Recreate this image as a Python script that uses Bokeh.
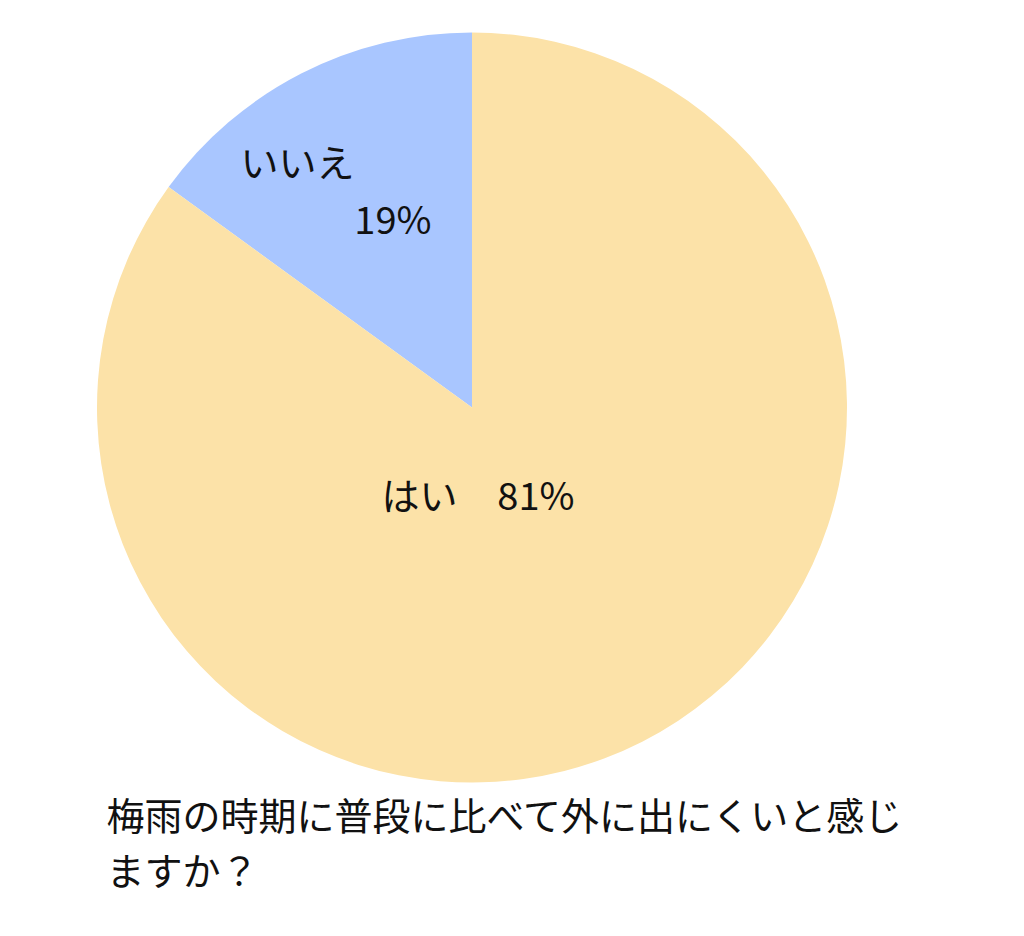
import math
from bokeh.plotting import figure
from bokeh.models import Range1d, ColumnDataSource
from bokeh.core.properties import value
from bokeh.embed import file_html
from bokeh.resources import INLINE

# ---- data ----
categories = ["いいえ", "はい"]
shares = [15.0, 85.0]            # slice sizes as drawn
pct_labels = ["19%", "81%"]      # printed percentages
colors = ["#A9C6FF", "#FCE2A8"]
title_lines = ["梅雨の時期に普段に比べて外に出にくいと感じ", "ますか？"]

FONT = "Noto Sans CJK JP"
W, H = 1008, 920

p = figure(width=W, height=H, output_backend="svg", toolbar_location=None,
           x_range=Range1d(0, W), y_range=Range1d(-H, 0),
           min_border=0)
p.axis.visible = False
p.grid.visible = False
p.outline_line_color = None
p.background_fill_color = "white"
p.border_fill_color = "white"

cx, cy, r = 471.5, -407.0, 375.0
total = sum(shares)
starts, ends = [], []
acc = 0.0
for s in shares:
    a0 = math.pi / 2 + 2 * math.pi * acc / total
    acc += s
    a1 = math.pi / 2 + 2 * math.pi * acc / total
    starts.append(a0)
    ends.append(a1)

src = ColumnDataSource(dict(start=starts, end=ends, color=colors, cat=categories))
p.wedge(x=cx, y=cy, radius=r, start_angle="start", end_angle="end",
        direction="anticlock", fill_color="color", line_color=None, source=src)

# slice labels
TXT = dict(text_font=value(FONT), text_font_size="38px", text_baseline="middle",
           text_color="#111111")
p.text(x=[240], y=[-160], text=[categories[0]], text_align="left", **TXT)
p.text(x=[431], y=[-217], text=[pct_labels[0]], text_align="right", **TXT)
p.text(x=[381], y=[-493], text=[categories[1]], text_align="left", **TXT)
p.text(x=[574], y=[-493], text=[pct_labels[1]], text_align="right", **TXT)

# question text
p.text(x=[106, 106], y=[-813, -868], text=title_lines, text_font=value(FONT),
       text_font_size="38px", text_align="left", text_baseline="middle", text_color="#111111")

open("out.html", "w").write(file_html(p, INLINE))
